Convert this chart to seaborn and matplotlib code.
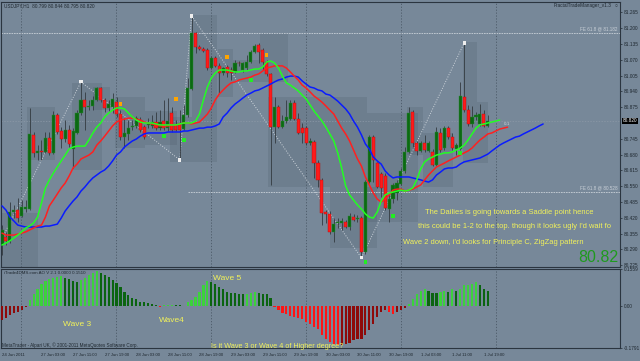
import numpy as np
import pandas as pd
import seaborn as sns
import matplotlib.pyplot as plt
import matplotlib.transforms as mtransforms
from matplotlib.patches import Rectangle

bg = '#778899'
sns.set_style('white', {'axes.facecolor': bg, 'figure.facecolor': bg})
plt.rcParams['font.family'] = ['Liberation Sans', 'DejaVu Sans']

# USDJPY H1 candles
opens = [80.308, 80.341, 80.325, 80.444, 80.452, 80.427, 80.456, 80.456, 80.761, 80.687,
         80.695, 80.691, 80.748, 80.687, 80.843, 80.777, 80.744, 80.781, 80.703, 80.769,
         80.851, 80.905, 80.876, 80.880, 80.905, 80.954, 80.905, 80.872, 80.876, 80.896,
         80.847, 80.752, 80.765, 80.793, 80.798, 80.822, 80.793, 80.802, 80.798, 80.814,
         80.789, 80.818, 80.789, 80.851, 80.802, 80.806, 80.785, 80.843, 80.950, 81.180,
         81.123, 81.114, 81.110, 81.036, 81.077, 81.045, 81.016, 81.040, 81.028, 81.020,
         81.057, 81.028, 81.036, 81.061, 81.102, 81.131, 81.110, 81.061, 81.012, 80.793,
         80.876, 80.793, 80.818, 80.826, 80.892, 80.826, 80.789, 80.789, 80.728, 80.732,
         80.645, 80.576, 80.444, 80.436, 80.362, 80.399, 80.399, 80.403, 80.382, 80.423,
         80.415, 80.419, 80.279, 80.567, 80.752, 80.645, 80.600, 80.592, 80.456, 80.497,
         80.522, 80.559, 80.613, 80.691, 80.855, 80.728, 80.695, 80.728, 80.695, 80.691,
         80.637, 80.769, 80.707, 80.789, 80.752, 80.703, 80.703, 80.917, 80.863, 80.806,
         80.835, 80.806, 80.847, 80.799]
highs = [80.390, 80.362, 80.485, 80.473, 80.501, 80.493, 80.493, 80.872, 80.773, 80.719,
         80.740, 80.773, 80.773, 80.859, 80.851, 80.793, 80.822, 80.802, 80.789, 80.863,
         80.979, 80.938, 80.905, 80.921, 80.958, 80.958, 80.913, 80.905, 80.933, 80.917,
         80.863, 80.830, 80.822, 80.822, 80.839, 80.835, 80.802, 80.830, 80.843, 80.855,
         80.863, 80.905, 80.913, 80.876, 80.822, 80.863, 80.884, 80.995, 81.250, 81.184,
         81.131, 81.123, 81.119, 81.086, 81.086, 81.057, 81.040, 81.049, 81.040, 81.069,
         81.065, 81.061, 81.090, 81.110, 81.135, 81.139, 81.119, 81.069, 81.016, 80.917,
         80.884, 80.843, 80.905, 80.905, 80.905, 80.851, 80.810, 80.798, 80.748, 80.740,
         80.658, 80.584, 80.452, 80.448, 80.419, 80.419, 80.419, 80.411, 80.440, 80.436,
         80.432, 80.427, 80.576, 80.761, 80.761, 80.650, 80.608, 80.604, 80.522, 80.563,
         80.576, 80.625, 80.711, 80.876, 80.863, 80.736, 80.736, 80.761, 80.736, 80.703,
         80.793, 80.789, 80.798, 80.798, 80.769, 80.728, 80.979, 81.139, 80.884, 80.880,
         80.855, 80.888, 80.863, 80.844]
lows = [80.267, 80.308, 80.316, 80.419, 80.403, 80.423, 80.444, 80.452, 80.670, 80.658,
        80.658, 80.687, 80.678, 80.682, 80.765, 80.707, 80.732, 80.711, 80.625, 80.765,
        80.843, 80.781, 80.863, 80.863, 80.900, 80.896, 80.855, 80.859, 80.851, 80.835,
        80.740, 80.707, 80.740, 80.781, 80.789, 80.773, 80.744, 80.789, 80.789, 80.781,
        80.781, 80.781, 80.777, 80.773, 80.777, 80.658, 80.781, 80.835, 80.946, 81.098,
        81.110, 81.102, 81.028, 81.032, 81.040, 80.933, 81.007, 80.999, 80.987, 81.016,
        81.045, 81.020, 81.028, 81.057, 81.098, 81.057, 81.028, 81.003, 80.555, 80.728,
        80.789, 80.789, 80.810, 80.822, 80.822, 80.765, 80.728, 80.719, 80.719, 80.584,
        80.547, 80.390, 80.399, 80.353, 80.320, 80.378, 80.370, 80.378, 80.370, 80.407,
        80.403, 80.255, 80.271, 80.563, 80.567, 80.543, 80.506, 80.452, 80.403, 80.481,
        80.493, 80.555, 80.604, 80.687, 80.711, 80.678, 80.691, 80.691, 80.691, 80.633,
        80.633, 80.691, 80.699, 80.744, 80.699, 80.678, 80.699, 80.855, 80.798, 80.793,
        80.822, 80.798, 80.793, 80.795]
closes = [80.370, 80.325, 80.444, 80.452, 80.419, 80.464, 80.464, 80.765, 80.687, 80.695,
          80.691, 80.748, 80.687, 80.843, 80.773, 80.744, 80.781, 80.724, 80.777, 80.851,
          80.905, 80.876, 80.880, 80.905, 80.954, 80.905, 80.872, 80.888, 80.909, 80.847,
          80.752, 80.769, 80.789, 80.798, 80.830, 80.781, 80.752, 80.806, 80.814, 80.789,
          80.814, 80.789, 80.818, 80.781, 80.781, 80.781, 80.843, 80.954, 81.180, 81.123,
          81.114, 81.106, 81.036, 81.077, 81.045, 81.016, 81.036, 81.016, 81.016, 81.057,
          81.055, 81.057, 81.061, 81.102, 81.127, 81.102, 81.061, 81.012, 80.793, 80.876,
          80.793, 80.818, 80.835, 80.892, 80.826, 80.769, 80.769, 80.728, 80.736, 80.645,
          80.576, 80.440, 80.436, 80.362, 80.394, 80.403, 80.407, 80.382, 80.427, 80.411,
          80.419, 80.279, 80.567, 80.752, 80.658, 80.547, 80.543, 80.460, 80.497, 80.555,
          80.563, 80.613, 80.691, 80.851, 80.728, 80.695, 80.728, 80.699, 80.728, 80.637,
          80.773, 80.699, 80.789, 80.752, 80.707, 80.719, 80.921, 80.863, 80.806, 80.835,
          80.843, 80.847, 80.798, 80.820]

# Alligator lines (lips shifted 3, teeth 5, jaw 8 bars ahead)
lips = [80.308, 80.316, 80.325, 80.337, 80.349, 80.362, 80.378, 80.386, 80.399, 80.423,
        80.481, 80.543, 80.576, 80.604, 80.629, 80.654, 80.678, 80.703, 80.711, 80.715,
        80.715, 80.715, 80.740, 80.769, 80.793, 80.810, 80.835, 80.851, 80.863, 80.872,
        80.872, 80.868, 80.851, 80.835, 80.822, 80.814, 80.810, 80.810, 80.810, 80.806,
        80.802, 80.802, 80.802, 80.802, 80.802, 80.806, 80.810, 80.810, 80.810, 80.818,
        80.847, 80.905, 80.958, 80.995, 81.016, 81.028, 81.028, 81.028, 81.024, 81.020,
        81.020, 81.024, 81.024, 81.028, 81.032, 81.032, 81.040, 81.061, 81.065, 81.057,
        81.036, 81.003, 80.975, 80.966, 80.954, 80.942, 80.925, 80.909, 80.884, 80.859,
        80.839, 80.818, 80.793, 80.765, 80.736, 80.687, 80.625, 80.551, 80.514, 80.493,
        80.473, 80.456, 80.436, 80.423, 80.419, 80.444, 80.489, 80.514, 80.522, 80.526,
        80.530, 80.534, 80.530, 80.534, 80.543, 80.576, 80.621, 80.650, 80.662, 80.670,
        80.678, 80.682, 80.687, 80.687, 80.691, 80.699, 80.707, 80.719, 80.740, 80.765,
        80.789, 80.802, 80.806, 80.810, 80.814, 80.818, 80.822]
teeth = [80.357, 80.349, 80.349, 80.349, 80.353, 80.357, 80.362, 80.370, 80.378, 80.386,
         80.390, 80.423, 80.469, 80.493, 80.518, 80.543, 80.563, 80.592, 80.625, 80.641,
         80.662, 80.670, 80.678, 80.691, 80.719, 80.736, 80.756, 80.777, 80.798, 80.814,
         80.822, 80.826, 80.830, 80.830, 80.826, 80.822, 80.814, 80.810, 80.806, 80.802,
         80.798, 80.798, 80.798, 80.802, 80.802, 80.806, 80.810, 80.810, 80.806, 80.810,
         80.814, 80.830, 80.847, 80.872, 80.905, 80.929, 80.946, 80.962, 80.975, 80.979,
         80.987, 80.991, 80.995, 80.999, 81.007, 81.012, 81.024, 81.036, 81.040, 81.045,
         81.045, 81.045, 81.036, 81.020, 81.003, 80.987, 80.966, 80.954, 80.938, 80.921,
         80.909, 80.896, 80.880, 80.863, 80.847, 80.818, 80.789, 80.765, 80.736, 80.699,
         80.662, 80.633, 80.588, 80.555, 80.522, 80.497, 80.485, 80.497, 80.514, 80.534,
         80.538, 80.538, 80.530, 80.534, 80.538, 80.547, 80.555, 80.576, 80.596, 80.613,
         80.629, 80.637, 80.645, 80.654, 80.662, 80.670, 80.678, 80.687, 80.695, 80.707,
         80.724, 80.740, 80.752, 80.765, 80.769, 80.777, 80.785, 80.789, 80.793]
jaw = [80.469, 80.452, 80.423, 80.407, 80.390, 80.386, 80.382, 80.382, 80.382, 80.382,
       80.382, 80.386, 80.386, 80.390, 80.394, 80.419, 80.448, 80.469, 80.489, 80.506,
       80.530, 80.547, 80.567, 80.584, 80.596, 80.608, 80.617, 80.633, 80.654, 80.678,
       80.691, 80.711, 80.724, 80.736, 80.744, 80.756, 80.765, 80.769, 80.769, 80.769,
       80.769, 80.769, 80.773, 80.773, 80.773, 80.773, 80.777, 80.777, 80.781, 80.785,
       80.789, 80.789, 80.793, 80.793, 80.798, 80.806, 80.835, 80.851, 80.872, 80.888,
       80.900, 80.913, 80.925, 80.933, 80.942, 80.946, 80.954, 80.962, 80.970, 80.979,
       80.987, 80.991, 80.999, 81.003, 81.003, 80.999, 80.983, 80.970, 80.958, 80.954,
       80.946, 80.942, 80.929, 80.925, 80.913, 80.900, 80.884, 80.868, 80.847, 80.818,
       80.793, 80.761, 80.724, 80.703, 80.670, 80.654, 80.641, 80.613, 80.596, 80.584,
       80.588, 80.588, 80.588, 80.588, 80.584, 80.580, 80.576, 80.571, 80.567, 80.576,
       80.596, 80.608, 80.621, 80.625, 80.625, 80.629, 80.641, 80.650, 80.654, 80.658,
       80.662, 80.666, 80.674, 80.682, 80.695, 80.707, 80.719, 80.728, 80.736, 80.744,
       80.752, 80.756, 80.765, 80.773, 80.781, 80.789, 80.798, 80.806]

# Awesome oscillator
ao = [-0.060, -0.052, -0.040, -0.032, -0.028, -0.020, -0.004, 0.023, 0.050, 0.069,
      0.092, 0.106, 0.115, 0.119, 0.124, 0.126, 0.119, 0.115, 0.106, 0.101,
      0.110, 0.119, 0.129, 0.138, 0.147, 0.138, 0.129, 0.124, 0.110, 0.096,
      0.078, 0.060, 0.046, 0.032, 0.028, 0.018, 0.014, 0.012, 0.009, 0.005,
      -0.004, 0.002, 0.004, 0.005, 0.004, 0.002, -0.003, 0.014, 0.023, 0.037,
      0.060, 0.087, 0.106, 0.101, 0.092, 0.078, 0.069, 0.060, 0.055, 0.053,
      0.050, 0.048, 0.051, 0.054, 0.057, 0.055, 0.051, 0.048, 0.032, -0.004,
      -0.020, -0.032, -0.036, -0.044, -0.048, -0.050, -0.056, -0.068, -0.076, -0.088,
      -0.100, -0.123, -0.143, -0.155, -0.163, -0.167, -0.165, -0.163, -0.159, -0.147,
      -0.143, -0.139, -0.123, -0.103, -0.076, -0.048, -0.028, -0.020, -0.028, -0.036,
      -0.028, -0.020, -0.008, 0.009, 0.028, 0.050, 0.064, 0.069, 0.064, 0.055,
      0.053, 0.060, 0.062, 0.060, 0.069, 0.064, 0.073, 0.087, 0.089, 0.092,
      0.101, 0.087, 0.073, 0.064]

up_fractal_bar = [30, 44, 57, 67]
up_fractal_price = [80.888, 80.909, 81.081, 81.090]
down_fractal_bar = [41, 46, 63, 92, 99, 116]
down_fractal_price = [80.756, 80.740, 80.987, 80.238, 80.427, 80.687]

zigzag_bar = [-3, 20, 45, 48, 91, 117]
zigzag_price = [80.238, 80.979, 80.658, 81.250, 80.255, 81.139]

# shaded ranges: start bar, end bar, top, bottom
boxes = [(-0.5, 9, 80.440, 80.218), (6.3, 13.4, 80.876, 80.658), (17.7, 25.3, 80.975, 80.617),
         (23, 27.3, 80.958, 80.863), (28.6, 36.2, 80.917, 80.707), (36.2, 44.3, 80.859, 80.719),
         (42.5, 54.4, 80.835, 80.650), (48, 54.4, 81.254, 80.835), (54.7, 58.5, 81.114, 80.917),
         (58.5, 65.3, 81.069, 80.979), (65.3, 72.4, 81.180, 80.979), (67.3, 92.4, 80.917, 80.547),
         (83, 95, 80.547, 80.296), (92.4, 105.3, 80.851, 80.403), (102.5, 106.6, 80.876, 80.678),
         (106.6, 114.2, 80.769, 80.547), (116.7, 120.3, 81.143, 80.896), (116.7, 123, 80.896, 80.645)]

price_ticks = [81.265, 81.200, 81.135, 81.070, 81.005, 80.940, 80.875, 80.745, 80.680,
               80.615, 80.550, 80.485, 80.420, 80.355, 80.290, 80.225]
time_bars = [0, 10, 18, 26, 34, 42, 50, 58, 66, 74, 82, 90, 98, 106, 114, 122]
time_labels = ['24 Jun 2011', '27 Jun 03:00', '27 Jun 11:00', '27 Jun 19:00', '28 Jun 03:00',
               '28 Jun 11:00', '28 Jun 19:00', '29 Jun 03:00', '29 Jun 11:00', '29 Jun 19:00',
               '30 Jun 03:00', '30 Jun 11:00', '30 Jun 19:00', '1 Jul 03:00', '1 Jul 11:00',
               '1 Jul 19:00']
grid_bars = [4.8, 28.8, 52.9, 77.0, 101.0, 125.0]

W, H = 640, 361
fig = plt.figure(figsize=(6.4, 3.61), dpi=100)
ax = fig.add_axes([1 / W, 1 - 267 / H, 619 / W, 265 / H])
ax2 = fig.add_axes([1 / W, 1 - 348 / H, 619 / W, 79 / H], sharex=ax)

frame = '#2b3540'
for a in (ax, ax2):
    a.set_facecolor(bg)
    for s in a.spines.values():
        s.set_color(frame)
        s.set_linewidth(0.8)
    for g in grid_bars:
        a.axvline(g, color='#4a5866', lw=0.6, ls=(0, (1.5, 2)), zorder=1)

# boxes
for b0, b1, top, bot in boxes:
    ax.add_patch(Rectangle((b0, bot), b1 - b0, top - bot, fc='#3d4a57', ec='none',
                           alpha=0.16, zorder=0.5))

# horizontal levels
ax.axhline(81.182, color='#c9d0d8', lw=0.6, ls=(0, (2, 1)), zorder=1.5)
ax.hlines(80.528, 47, 157, color='#c9d0d8', lw=0.6, ls=(0, (2, 1)), zorder=1.5)
ax.axhline(80.820, color='#8d9aa8', lw=0.5, ls=(0, (2, 2)), zorder=1.5)

# zigzag
sns.lineplot(x=zigzag_bar, y=zigzag_price, color='#ccd3da', lw=0.7, ls=(0, (1, 1.6)),
             ax=ax, zorder=1.8, sort=False)
sns.scatterplot(x=zigzag_bar, y=zigzag_price, color='#eeeeee', marker='s', s=5,
                edgecolor='none', ax=ax, zorder=6)

# candles
o = np.array(opens)
c = np.array(closes)
idx = np.arange(len(o))
up = c >= o
ax.vlines(idx, lows, highs, color='#333a40', lw=0.6, zorder=2)
ax.bar(idx[up], np.maximum(c - o, 0.002)[up], bottom=o[up], width=0.78, color='#0b6a12',
       edgecolor='#2d8a35', lw=0.3, zorder=3)
ax.bar(idx[~up], (c - o)[~up], bottom=o[~up], width=0.78, color='#ff1a1a',
       edgecolor='#b01010', lw=0.3, zorder=3)

# alligator
sns.lineplot(x=np.arange(len(jaw)), y=jaw, color='#0a1cff', lw=1.1, ax=ax, zorder=4)
sns.lineplot(x=np.arange(len(teeth)), y=teeth, color='#ff2020', lw=1.1, ax=ax, zorder=4)
sns.lineplot(x=np.arange(len(lips)), y=lips, color='#22ff22', lw=1.1, ax=ax, zorder=4)

# fractals
sns.scatterplot(x=up_fractal_bar, y=up_fractal_price, color='#ffa500', marker='s', s=7,
                edgecolor='none', ax=ax, zorder=6)
sns.scatterplot(x=down_fractal_bar, y=down_fractal_price, color='#22ee22', marker='s', s=7,
                edgecolor='none', ax=ax, zorder=6)

ax.set_xlim(-0.25, 156.46)
ax.set_ylim(80.2176, 81.3078)
ax.yaxis.tick_right()
ax.set_yticks(price_ticks)
ax.set_yticklabels([f'{p:.3f}' for p in price_ticks])
ax.tick_params(axis='y', direction='out', length=1.5, width=0.5, pad=1.2,
               labelsize=3.4, colors='#1f2830')
ax.tick_params(axis='x', bottom=False, labelbottom=False)
ax.set_xlabel('')
ax.set_ylabel('')

blend = mtransforms.blended_transform_factory(ax.transAxes, ax.transData)
ax.text(1.004, 80.820, '80.820', transform=blend, fontsize=3.4, color='white', va='center',
        ha='left', bbox=dict(fc='black', ec='none', pad=0.4), zorder=10)

# AO histogram
kinds = []
for i, v in enumerate(ao):
    rising = i == 0 or v >= ao[i - 1]
    if v >= 0:
        kinds.append('up_rise' if rising else 'up_fall')
    else:
        kinds.append('dn_rise' if rising else 'dn_fall')
aodf = pd.DataFrame({'bar': np.arange(len(ao)), 'ao': ao, 'kind': kinds})
pal = {'up_rise': '#3cd23c', 'up_fall': '#0b6410', 'dn_fall': '#ff1414', 'dn_rise': '#8e0a0a'}
sns.barplot(data=aodf, x='bar', y='ao', hue='kind', palette=pal, native_scale=True,
            dodge=False, width=0.55, saturation=1, errorbar=None, legend=False, ax=ax2,
            zorder=3, edgecolor='none', linewidth=0)
ax2.set_ylim(-0.1791, 0.1559)
ax2.set_xlim(-0.25, 156.46)
ax2.yaxis.tick_right()
ax2.set_yticks([0.1559, 0.0, -0.1791])
ax2.set_yticklabels(['0.1559', '0.00', '-0.1791'])
ax2.tick_params(axis='y', direction='out', length=1.5, width=0.5, pad=1.2,
                labelsize=3.4, colors='#1f2830')
ax2.set_xticks(time_bars)
ax2.set_xticklabels(time_labels, ha='left')
ax2.tick_params(axis='x', direction='out', length=2, width=0.5, pad=1.5,
                labelsize=3.1, colors='#1f2830')
ax2.set_xlabel('')
ax2.set_ylabel('')


def ftext(x, y, s, **kw):
    fig.text(x / W, 1 - y / H, s, va='center', **kw)


ftext(4, 6, 'USDJPY,H1  80.799 80.844 80.795 80.820', fontsize=3.4, color='#1f2830')
ftext(612, 6, 'FractalTradeManager_v1.3', fontsize=3.4, color='#1f2830', ha='right')
ftext(616, 6, '\u25cb', fontsize=3.6, color='#1f2830', ha='center')
ftext(618, 29, 'FE 61.8 @ 81.182', fontsize=3.3, color='#c9d0d8', ha='right')
ftext(618, 188, 'FE 61.8 @ 80.528', fontsize=3.3, color='#c9d0d8', ha='right')
ftext(504, 124, '0-1', fontsize=3.2, color='#c9d0d8')
ftext(4, 273, 'iTrade4DMS.com AO V 2.1 0.0000 0.1510', fontsize=3.2, color='#1f2830')
ftext(2, 345, 'MetaTrader - Alpari UK, \u00a9 2001-2011 MetaQuotes Software Corp.',
      fontsize=3.3, color='#1f2830')

yellow = '#f2f25a'
ftext(425, 212, 'The Dailies is going towards a Saddle point hence', fontsize=5.4, color=yellow)
ftext(418, 226, "this could be 1-2 to the top. though it looks ugly I'd wait fo",
      fontsize=5.4, color=yellow)
ftext(403, 242, "Wave 2 down, i'd looks for Principle C, ZigZag pattern",
      fontsize=5.4, color=yellow)
ftext(618, 257, '80.82', fontsize=11.5, color='#1f9a1f', ha='right')
ftext(63, 324, 'Wave 3', fontsize=6.0, color=yellow)
ftext(159, 321, 'Wave4', fontsize=6.0, color=yellow)
ftext(213, 279, 'Wave 5', fontsize=6.0, color=yellow)
ftext(211, 346, 'Is it Wave 3 or Wave 4 of Higher degree?', fontsize=5.2, color=yellow)

fig.savefig('out.png', dpi=100, facecolor=bg)
